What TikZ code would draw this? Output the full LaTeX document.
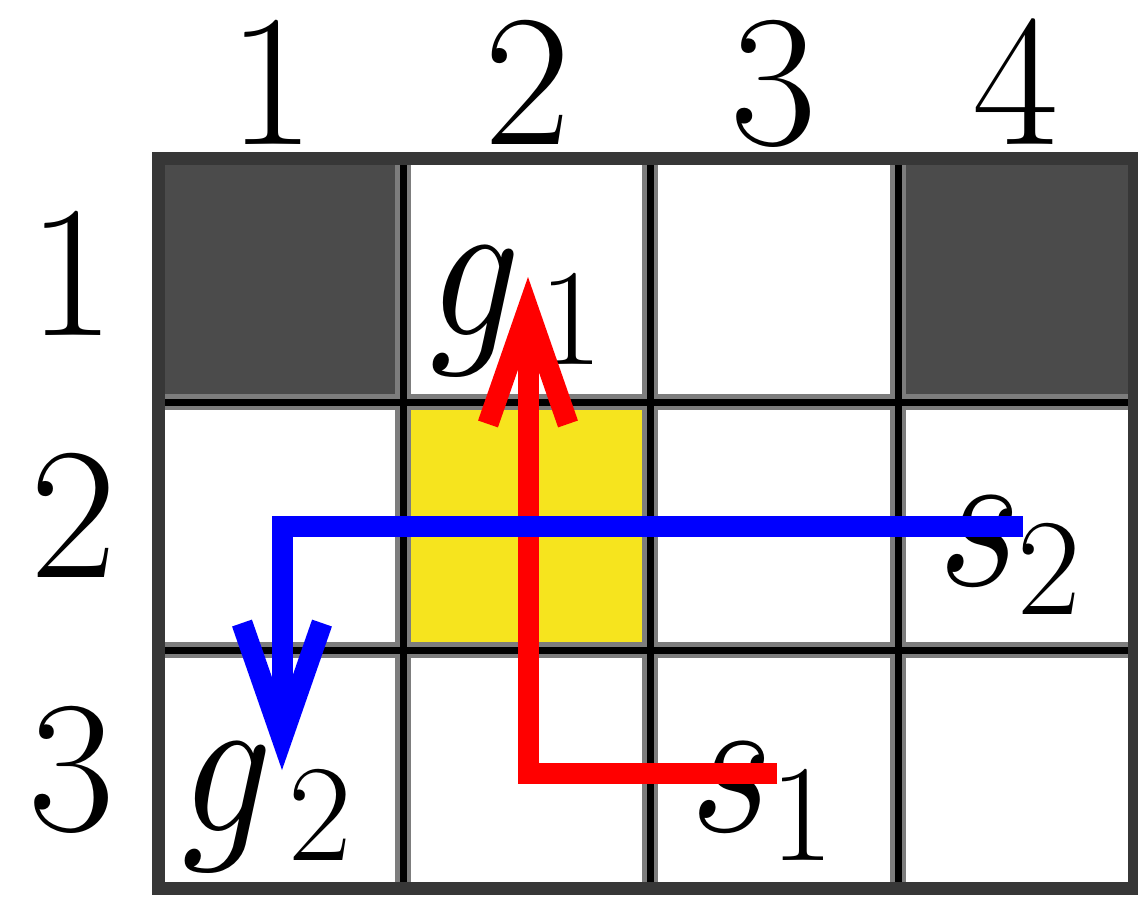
\documentclass[tikz,border=0pt]{standalone}
\usetikzlibrary{arrows.meta}
\DeclareFontFamily{OML}{cmm}{\skewchar\font127 }
\DeclareFontShape{OML}{cmm}{m}{it}{<->cmmi10}{}
\DeclareFontFamily{OT1}{cmr}{\hyphenchar\font45 }
\DeclareFontShape{OT1}{cmr}{m}{n}{<->cmr10}{}
\definecolor{cellgray}{RGB}{75,75,75}
\definecolor{cellyellow}{RGB}{246,228,30}
\definecolor{edgegray}{RGB}{125,125,125}
\definecolor{bordergray}{RGB}{55,55,55}
\newcommand{\sublab}[3]{\scalebox{0.86}[1]{$#1$}\kern#3pt\raisebox{-29pt}{\fontsize{138}{138}\selectfont #2}}
\begin{document}
\begin{tikzpicture}[x=1pt,y=-1pt,
  lab/.style={inner sep=0pt, anchor=base, font=\fontsize{188}{188}\selectfont},
  mlab/.style={inner sep=0pt, anchor=base west, font=\fontsize{205}{205}\selectfont},
  route/.style={line width=21pt, line join=miter, -{Straight Barb[length=115pt,width=80pt]}}
]
\useasboundingbox (0,0) rectangle (1138,898);
\fill[white] (0,0) rectangle (1138,898);
% cells
\fill[cellgray] (152,152) rectangle (403,402);
\fill[cellgray] (898,152) rectangle (1140,402);
\fill[cellyellow] (403,402) rectangle (650,650);
% grid lines
\foreach \x in {403,650,898} { \draw[edgegray, line width=16pt] (\x,152) -- (\x,895); }
\foreach \y in {402,650} { \draw[edgegray, line width=16pt] (152,\y) -- (1140,\y); }
\foreach \x in {403,650,898} { \draw[black, line width=7pt] (\x,152) -- (\x,895); }
\foreach \y in {402,650} { \draw[black, line width=7pt] (152,\y) -- (1140,\y); }
\draw[bordergray, line width=13pt] (158.5,158.5) rectangle (1134,888.5);
% headers
\node[lab] (c1) at (272,144) {1};
\node[lab] (c2) at (528,144) {2};
\node[lab] (c3) at (774,144) {3};
\node[lab] (c4) at (1016,144) {4};
\node[lab] (r1) at (72,335) {1};
\node[lab] (r2) at (74,577) {2};
\node[lab] (r3) at (72,830) {3};
% labels
\node[mlab] (g1) at (430,335) {\sublab{g}{1}{19}};
\node[mlab] (s2) at (938,585) {\sublab{s}{2}{-3}};
\node[mlab] (s1) at (690,831) {\sublab{s}{1}{-2}};
\node[mlab] (g2) at (182,831) {\sublab{g}{2}{16}};
% routes
\coordinate (rs) at (777,773);
\coordinate (rc) at (528,773);
\coordinate (rt) at (528,277);
\coordinate (bs) at (1023,526);
\coordinate (bc) at (282,526);
\coordinate (bt) at (282,770);
\draw[route, red] (rs) -- (rc) -- (rt);
\draw[route, blue] (bs) -- (bc) -- (bt);
\end{tikzpicture}
\end{document}
